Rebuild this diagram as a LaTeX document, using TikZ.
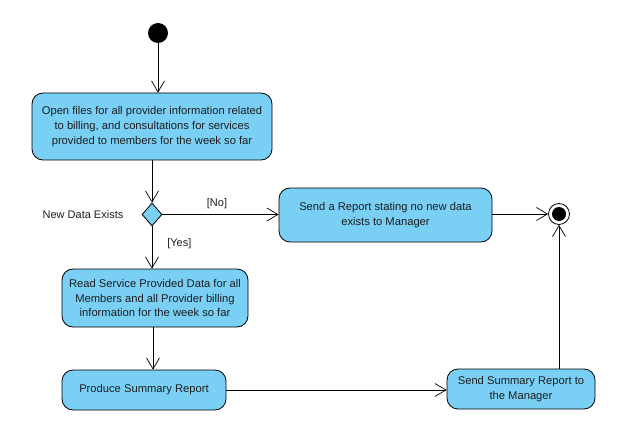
\documentclass[tikz,border=0pt]{standalone}
\usepackage{fontspec}
\setmainfont{Liberation Sans}
\usetikzlibrary{shapes.geometric,arrows.meta}
\definecolor{actfill}{RGB}{122,207,245}
\definecolor{txt}{RGB}{30,30,30}
\tikzset{
  act/.style={draw=black, line width=0.8pt, fill=actfill, rounded corners=11pt, inner sep=0pt, align=center, text=txt, font=\fontsize{11.2}{14.7}\selectfont},
  flow/.style={draw=black, line width=0.7pt, -{Straight Barb[length=11pt,width=13pt,line width=0.7pt]}},
  lbl/.style={text=txt, font=\fontsize{11}{12}\selectfont, inner sep=0pt}
}
\begin{document}
\begin{tikzpicture}[x=1pt,y=-1pt]
\useasboundingbox[fill=white] (0,0) rectangle (639,422);
\node[circle, fill=black, minimum size=20pt, inner sep=0pt] (init) at (158,33) {};
\node[act, minimum width=240pt, minimum height=67pt] (open) at (152,126.5) {Open files for all provider information related\\to billing, and consultations for services\\provided to members for the week so far};
\node[diamond, draw=black, line width=0.8pt, fill=actfill, minimum width=20pt, minimum height=23pt, inner sep=0pt] (dec) at (152,214.5) {};
\node[lbl] (declbl) at (83,215) {New Data Exists};
\node[act, minimum width=213pt, minimum height=54pt] (nodata) at (385.5,215) {Send a Report stating no new data\\exists to Manager};
\node[circle, draw=black, line width=0.8pt, fill=white, minimum size=21pt, inner sep=0pt] (final) at (559,214) {};
\node[circle, fill=black, minimum size=14pt, inner sep=0pt] (finalin) at (559,214) {};
\node[act, minimum width=186pt, minimum height=58pt] (read) at (155,298) {Read Service Provided Data for all\\Members and all Provider billing\\information for the week so far};
\node[act, minimum width=164pt, minimum height=40pt] (prod) at (144,390) {Produce Summary Report};
\node[act, minimum width=148pt, minimum height=40pt] (send) at (521,389) {Send Summary Report to\\the Manager};
\coordinate (c2) at (152,0);
\coordinate (c3) at (153,0);
\draw[flow] (init) -- (init |- open.north);
\draw[flow] (c2 |- open.south) -- (dec.north);
\draw[flow] (dec.east) -- node[lbl, above=5pt, pos=0.47] {[No]} (dec.east -| nodata.west);
\draw[flow] (dec.south) -- node[lbl, right=15pt, pos=0.42] {[Yes]} (dec.south |- read.north);
\draw[flow] (nodata.east |- final) -- (final.west);
\draw[flow] (c3 |- read.south) -- (c3 |- prod.north);
\draw[flow] (prod.east) -- (prod.east -| send.west);
\draw[flow] (final |- send.north) -- (final.south);
\end{tikzpicture}
\end{document}
